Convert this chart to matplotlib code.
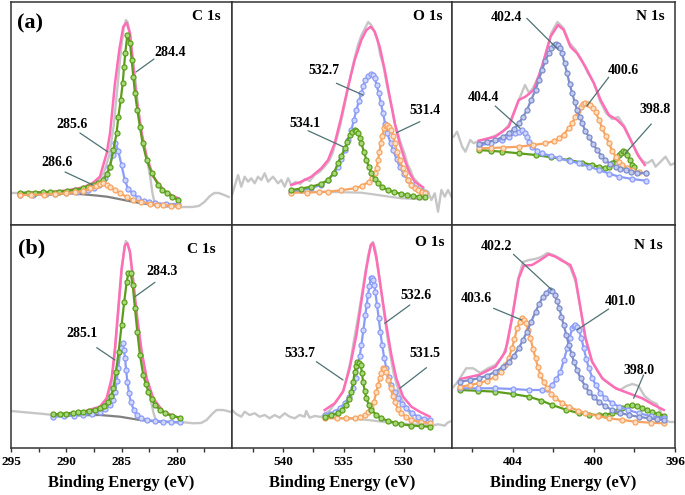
import matplotlib
matplotlib.use("Agg")
import matplotlib.pyplot as plt
from matplotlib.ticker import FixedLocator

plt.rcParams['font.family'] = ['Liberation Serif', 'DejaVu Serif']
plt.rcParams['font.weight'] = 'bold'

# ---------------- (a) C 1s ----------------
a_c1s_raw_e = [295, 294.2, 292.5, 290.5, 289, 288, 287.2, 286.6, 286.1, 285.7, 285.35, 285.05, 284.8, 284.6,
               284.45, 284.25, 284.0, 283.75, 283.5, 283.2, 282.9, 282.6, 282.4, 282.2, 282.0, 281.6, 280.5,
               279.5, 278.6, 278.0, 277.5, 277.0, 276.6, 276.2, 275.7, 275.3]
a_c1s_raw_i = [32, 32, 32, 33, 35, 38, 43, 52, 70, 100, 140, 175, 197, 205, 203, 192, 168, 145, 118, 92, 75,
               60, 48, 32, 22, 20, 18, 18, 18, 19, 23, 29, 32, 32, 30, 28]
a_c1s_bg_e = [294.2, 291, 289.5, 288.5, 287.3, 286.3, 285.1, 283.9, 282.7, 281.3, 279.9]
a_c1s_bg_i = [32, 32, 31.5, 30.7, 29.5, 28.3, 25.7, 23, 21, 20, 19.3]
a_c1s_sum_e = [294.2, 291.5, 290, 288.5, 287.6, 286.95, 286.65, 286.34, 286.04, 285.59, 285.2, 284.84, 284.53,
               284.23, 283.93, 283.63, 283.17, 282.72, 282.12, 281.2, 280.5, 279.86]
a_c1s_sum_i = [32, 33, 34.5, 37.5, 42, 48.3, 60, 71.7, 91.7, 141.7, 175, 198.3, 202.3, 191.7, 158, 125, 91.7,
               68.3, 48.3, 35, 30, 26.7]
a_c1s_p1_e = [294.19, 293.5, 292.8, 292.1, 291.5, 290.7, 289.96, 289.2, 288.46, 288, 287.55, 287.1, 286.65,
              286.3, 286.04, 285.74, 285.44, 285.29, 285.07, 284.89, 284.77, 284.66, 284.47, 284.23, 284.08,
              283.93, 283.78, 283.57, 283.33, 283.09, 282.72, 282.27, 281.67, 281.3, 280.9, 280.4, 279.86]
a_c1s_p1_i = [32, 32.2, 32.5, 32.8, 33, 33.5, 34, 35.5, 37, 38.5, 40, 42, 45, 51, 58, 75, 92, 108, 125, 142,
              158, 172, 190, 182, 165, 148, 132, 115, 98, 82, 65, 52, 40, 35, 32, 28, 25]
a_c1s_p2_e = [294.2, 293, 291.8, 291, 290, 289, 288.5, 288, 287.5, 287, 286.5, 286.1, 285.8, 285.55, 285.3,
              285.0, 284.7, 284.4, 284.0, 283.5, 283, 282.5, 282, 281, 279.9]
a_c1s_p2_i = [30, 30.3, 30.7, 31, 32, 33, 34, 35, 37, 40, 47, 58, 70, 82, 74, 60, 45, 36, 32, 27, 24, 23, 22,
              21, 21]
a_c1s_p3_e = [294.2, 293.2, 292, 291, 290, 289.2, 288.5, 287.85, 287.3, 286.95, 286.65, 286.3, 286.04, 285.6,
              285.14, 284.5, 283.93, 283.2, 282.42, 281.8, 281.2, 280.5, 279.86]
a_c1s_p3_i = [30, 30.2, 30.5, 31, 31.7, 32.8, 34, 36.7, 39, 40.7, 42.3, 40.5, 38.3, 35, 31.7, 28, 25, 23, 21,
              20.3, 19.7, 19.3, 19]

# ---------------- (a) O 1s ----------------
a_o1s_raw_e = [544.25, 543.75, 543.48, 543.2, 542.92, 542.65, 542.37, 542.09, 541.82, 541.54, 541.26, 540.85,
               540.43, 540.16, 539.88, 539.6, 539.33, 539.0, 538.6, 538.2, 537.8, 537.4, 537.0, 536.6, 536.2,
               535.9, 535.6, 535.3, 535.0, 534.7, 534.4, 534.1, 533.8, 533.5, 533.2, 532.95, 532.7, 532.45,
               532.2, 531.95, 531.7, 531.45, 531.2, 530.95, 530.7, 530.45, 530.2, 529.95, 529.7, 529.45,
               529.2, 528.95, 528.7, 528.45, 528.26, 527.98, 527.71, 527.43, 527.16, 526.88, 526.6, 526.33,
               526.05]
a_o1s_raw_i = [30, 50, 38.3, 48.3, 43.3, 46.7, 41.7, 48.3, 45, 51.7, 43.3, 48.3, 41.7, 45, 38.3, 46.7, 40, 43,
               41, 46, 44, 50, 53, 58, 64, 72, 85, 98, 115, 132, 150, 166, 180, 190, 197, 203, 200, 194, 186,
               170, 160, 143, 128, 116, 100, 90, 80, 72, 61, 55, 47, 44, 40, 37, 35, 33.3, 25, 31.7, 13.3, 35,
               28.3, 35, 28.3]
a_o1s_bg_e = [539.33, 536, 533.52, 532.14, 531, 530.2, 528.26]
a_o1s_bg_i = [33.3, 33, 32.3, 30, 28, 26.7, 25.7]
a_o1s_sum_e = [539.33, 538.5, 537.67, 536.84, 536.28, 535.73, 535.18, 534.62, 534.07, 533.52, 533.1, 532.74,
               532.41, 532.0, 531.58, 531.17, 530.75, 530.34, 529.92, 529.51, 529.09, 528.4]
a_o1s_sum_i = [40, 43.3, 48.3, 56.7, 65, 81.7, 108.3, 138.3, 165, 185, 195, 198.3, 193.3, 178.3, 155, 128.3,
               101.7, 81.7, 65, 51.7, 43.3, 37.7]
a_o1s_p1_e = [539.33, 538.5, 537.67, 536.9, 536.28, 535.8, 535.46, 535.18, 534.9, 534.62, 534.35, 534.14,
              533.93, 533.72, 533.52, 533.35, 533.19, 532.95, 532.74, 532.58, 532.41, 532.25, 532.08, 531.9,
              531.72, 531.54, 531.36, 531.1, 530.89, 530.6, 530.34, 530.0, 529.65, 529.3, 528.96, 528.6,
              528.26]
a_o1s_p1_i = [33.3, 35, 36.7, 40, 45, 52, 58.3, 66, 75, 85, 95, 105, 115, 124, 131.7, 139, 145, 149, 151, 150,
              146.7, 140, 131.7, 122, 111.7, 101, 91.7, 82, 75, 66, 58.3, 51, 45, 40, 36.7, 34, 32.3]
a_o1s_p2_e = [539.33, 538.5, 537.67, 536.9, 536.28, 535.8, 535.46, 535.18, 534.9, 534.7, 534.49, 534.28,
              534.07, 533.93, 533.79, 533.65, 533.52, 533.3, 533.1, 532.9, 532.69, 532.4, 532.14, 531.8,
              531.31, 530.8, 530.2, 529.7, 529.2, 528.7, 528.26]
a_o1s_p2_i = [35, 36.5, 38.3, 41, 45, 52, 61.7, 69, 76.7, 83, 90, 93.5, 95, 94, 91.7, 87, 81.7, 73, 65, 58,
              51.7, 46, 41.7, 38, 35, 33, 31, 30, 29, 28.3, 27.7]
a_o1s_p3_e = [539.33, 538, 537, 536.28, 535.2, 534.07, 533.5, 532.9, 532.65, 532.41, 532.25, 532.14, 532.02,
              531.91, 531.78, 531.64, 531.5, 531.36, 531.2, 531.03, 530.9, 530.75, 530.55, 530.34, 530.1,
              529.92, 529.65, 529.37, 529.1, 528.82, 528.5, 528.26]
a_o1s_p3_i = [32.3, 32.5, 32.9, 33.3, 34.8, 36.7, 39, 43.3, 47, 51.7, 57, 65, 73, 81.7, 89, 96.7, 99, 100, 98,
              95, 89, 81.7, 73, 65, 57, 51.7, 45, 40, 37, 35, 33.5, 32.3]

# ---------------- (a) N 1s ----------------
a_n1s_raw_e = [406.92, 406.75, 406.5, 406.34, 406.1, 405.93, 405.77, 405.68, 405.3, 404.9, 404.5, 404.2,
               403.9, 403.6, 403.4, 403.2, 403.0, 402.7, 402.4, 402.1, 401.8, 401.5, 401.2, 400.9, 400.6,
               400.3, 400.0, 399.7, 399.4, 399.1, 398.8, 398.5, 398.2, 397.9, 397.6, 397.37, 397.12, 396.96,
               396.71, 396.47, 396.22, 396.0]
a_n1s_raw_i = [88.3, 93.3, 78.3, 73.3, 85, 81.7, 83.3, 84, 86, 89, 93, 100, 115, 130, 140, 132, 137, 150, 170,
               192, 203, 197, 182, 175, 165, 152, 142, 124, 112, 106, 108, 99, 86, 72, 64, 61.7, 65, 58.3,
               63.3, 68.3, 60, 62]
a_n1s_sum_e = [405.68, 404.86, 404.2, 403.71, 403.38, 402.97, 402.56, 402.14, 401.77, 401.49, 401.16, 400.83,
               400.42, 400.0, 399.67, 399.26, 398.85, 398.52, 398.19, 397.78, 397.49]
a_n1s_sum_i = [84.3, 88.3, 98.3, 125, 128.3, 135, 158.3, 188.3, 200, 195, 178.3, 171.7, 158.3, 141.7, 125, 110,
               105, 98.3, 85, 68.3, 60]
a_n1s_p1_e = [405.68, 405.25, 404.86, 404.5, 404.2, 403.95, 403.71, 403.5, 403.3, 403.1, 402.88, 402.72,
              402.56, 402.4, 402.23, 402.1, 401.98, 401.87, 401.77, 401.67, 401.57, 401.45, 401.32, 401.2,
              401.07, 400.95, 400.83, 400.7, 400.58, 400.42, 400.25, 400.05, 399.84, 399.63, 399.43, 399.2,
              398.93, 398.7, 398.44, 398.15, 397.86, 397.45]
a_n1s_p1_i = [81, 83, 85, 88, 91.7, 96, 101.7, 108, 115, 125, 135, 145, 155, 164, 171.7, 177, 180, 181, 180,
              177, 171.7, 162, 151.7, 141, 131.7, 123, 115, 108, 101.7, 94, 88.3, 81, 75, 69, 65, 61, 58.3,
              56.5, 55, 53.5, 52.3, 51.7]
a_n1s_p2_e = [405.68, 405.1, 404.5, 403.71, 403.0, 402.39, 401.95, 401.73, 401.5, 401.24, 401.07, 400.91,
              400.78, 400.66, 400.54, 400.42, 400.3, 400.17, 400.05, 399.92, 399.75, 399.59, 399.42, 399.26,
              399.1, 398.93, 398.76, 398.6, 398.35, 398.11, 397.8, 397.45]
a_n1s_p2_i = [76.7, 77, 77.5, 78.3, 80, 81.7, 84, 86.7, 90.5, 96.7, 102, 108.3, 114, 118.3, 121, 121.7, 121.5,
              120, 117, 113.3, 105, 96.7, 89, 81.7, 74.5, 68.3, 63.5, 60, 57, 55, 53, 51.7]
a_n1s_p3_e = [405.68, 405.1, 404.53, 404.2, 403.87, 403.7, 403.54, 403.42, 403.3, 403.18, 403.05, 402.8,
              402.56, 402.1, 401.73, 401.2, 400.74, 400.25, 399.76, 399.25, 398.77, 398.1, 397.45]
a_n1s_p3_i = [79.3, 82, 85, 88, 91.7, 93.5, 95, 92, 88.3, 83, 78.3, 74.5, 71.7, 69, 66.7, 64, 61.7, 58.5, 55,
              51.5, 48.3, 46, 44.3]
a_n1s_p4_e = [405.68, 405.1, 404.53, 403.7, 402.88, 402.1, 401.24, 400.6, 400.09, 399.75, 399.43, 399.25,
              399.1, 398.93, 398.77, 398.67, 398.57, 398.46, 398.36, 398.22, 398.11, 398.03]
a_n1s_p4_i = [75, 74.2, 73.3, 71.7, 70, 67.7, 65, 62.5, 60, 58.3, 56.7, 58.5, 61.7, 66, 70, 72.5, 74.3, 73,
              70, 65, 60, 58.3]

# ---------------- (b) C 1s ----------------
b_c1s_raw_e = [295, 294, 293, 292, 291.2, 290, 288.5, 287.5, 286.8, 286.3, 285.9, 285.6, 285.3, 285.0, 284.75,
               284.6, 284.45, 284.25, 284.0, 283.75, 283.5, 283.2, 282.9, 282.6, 282.3, 282.1, 281.9, 281.5,
               280.5, 279.7, 279.2, 278.5, 277.8, 277.3, 276.8, 276.4, 275.8, 275.2]
b_c1s_raw_i = [37, 36, 35, 34, 33, 33, 35, 37, 40, 48, 65, 95, 135, 175, 200, 207, 204, 196, 172, 142, 118,
               96, 78, 62, 45, 35, 28, 26, 26, 26, 25.5, 24.7, 25, 28, 34, 38, 38, 36.3]
b_c1s_bg_e = [291.17, 286.95, 285.14, 283.33, 281.52, 279.7]
b_c1s_bg_i = [32.3, 33, 31.3, 28, 26.3, 25.7]
b_c1s_sum_e = [291.17, 288.46, 286.95, 286.35, 285.89, 285.59, 285.29, 284.99, 284.68, 284.47, 284.23, 283.93,
               283.57, 283.17, 282.72, 282.12, 281.22, 279.7]
b_c1s_sum_i = [33, 36.3, 41.3, 49.7, 69.7, 99.7, 139.7, 179.7, 203, 204.7, 196.3, 166.3, 129.7, 96.3, 69.7,
               49.7, 36.3, 29.7]
b_c1s_p1_e = [291.17, 290.6, 290.0, 289.4, 288.9, 288.46, 287.9, 287.4, 286.95, 286.55, 286.2, 285.95, 285.74,
              285.5, 285.26, 284.99, 284.75, 284.53, 284.38, 284.17, 283.99, 283.78, 283.57, 283.33, 283.03,
              282.8, 282.57, 282.27, 281.97, 281.5, 281.07, 280.4, 279.7]
b_c1s_p1_i = [33.7, 34, 34.5, 35, 35.6, 36.3, 37.5, 38.5, 39.7, 42.5, 46.3, 52, 59.7, 76.3, 96.3, 123, 146.3,
              166.3, 174.7, 174.7, 163, 139.7, 116.3, 93, 73, 64, 56.3, 49, 43, 38, 34.7, 32, 30.3]
b_c1s_p2_e = [291.17, 290.2, 289.3, 288.46, 287.7, 286.95, 286.5, 286.04, 285.8, 285.59, 285.44, 285.29,
              285.08, 284.9, 284.78, 284.68, 284.58, 284.47, 284.32, 284.17, 283.9, 283.63, 283.2, 282.72,
              282.0, 281.22, 280.5, 279.7]
b_c1s_p2_i = [31.3, 31.8, 32.4, 33, 34.5, 36.3, 39, 43, 48.5, 56.3, 67, 79.7, 99.7, 104.7, 98, 89.7, 78,
              66.3, 55, 46.3, 38.5, 33, 30, 28, 27, 26.3, 26, 25.7]

# ---------------- (b) O 1s ----------------
b_o1s_raw_e = [544.25, 543.9, 543.48, 543.2, 542.79, 542.37, 541.96, 541.54, 541.13, 540.71, 540.3, 539.88,
               539.47, 539.05, 538.64, 538.22, 538.1, 537.81, 537.39, 536.84, 536.5, 536.2, 535.8, 535.4,
               535.0, 534.7, 534.4, 534.1, 533.8, 533.5, 533.2, 532.95, 532.7, 532.55, 532.35, 532.1, 531.85,
               531.6, 531.35, 531.1, 530.85, 530.6, 530.3, 530.0, 529.7, 529.4, 529.1, 528.8, 528.5, 528.2,
               527.9, 527.71, 527.43, 527.16, 526.88, 526.6, 526.4, 526.19, 526.0]
b_o1s_raw_i = [38, 34, 31.3, 36.3, 33, 34.7, 31.3, 33, 29.7, 33, 30.3, 34.7, 31.3, 29.7, 33, 31.3, 37, 30.3,
               32, 31, 35, 37, 43, 50, 58, 72, 88, 110, 130, 152, 175, 193, 204, 206, 198, 178, 155, 132, 110,
               92, 75, 64, 52, 45, 38, 33, 28, 25, 23, 22, 21.5, 21.3, 23, 23.7, 23, 22.3, 25, 26.3, 27]
b_o1s_bg_e = [536.56, 534.5, 532.97, 531.8, 530.75, 529.3, 527.85]
b_o1s_bg_i = [30.3, 29.5, 28, 26.3, 24.7, 23.7, 23]
b_o1s_sum_e = [536.56, 535.73, 535.04, 534.49, 533.93, 533.52, 533.1, 532.74, 532.55, 532.27, 531.86, 531.45,
               531.03, 530.62, 530.06, 529.37, 528.68, 527.85]
b_o1s_sum_i = [38, 44.7, 56.3, 79.7, 113, 146.3, 179.7, 203, 204.7, 189.7, 156.3, 123, 93, 69.7, 51.3, 41.3,
               36.3, 31.3]
b_o1s_p1_e = [536.56, 536.1, 535.73, 535.3, 534.9, 534.55, 534.21, 534.0, 533.79, 533.65, 533.52, 533.35,
              533.19, 533.08, 532.97, 532.85, 532.74, 532.65, 532.55, 532.45, 532.36, 532.22, 532.08, 531.94,
              531.8, 531.62, 531.45, 531.25, 531.03, 530.75, 530.48, 530.15, 529.79, 529.3, 528.82, 528.3,
              527.85]
b_o1s_p1_i = [33, 34.5, 36.3, 40, 44.7, 51, 59.7, 70, 83, 92, 103, 118, 133, 143, 153, 162, 169.7, 170, 168,
              163, 156.3, 143, 129.7, 116, 103, 90, 79.7, 71, 63, 56, 49.7, 44, 39.7, 35, 31.3, 29.5, 28]
b_o1s_p2_e = [536.56, 536.0, 535.46, 535.1, 534.76, 534.55, 534.35, 534.2, 534.07, 533.95, 533.85, 533.7,
              533.57, 533.47, 533.38, 533.24, 533.1, 532.9, 532.69, 532.3, 531.86, 531.3, 530.75, 530.2, 529.4,
              528.6, 527.85]
b_o1s_p2_i = [31.3, 32.8, 34.7, 38.5, 43, 49, 56.3, 66, 76.3, 82.5, 86.3, 85.5, 83, 75, 66.3, 57, 49.7, 43,
              38, 33.5, 29.7, 27, 25.5, 23.7, 22.5, 21.8, 21.3]
b_o1s_p3_e = [536.56, 535.5, 534.8, 534.07, 533.6, 533.24, 532.95, 532.69, 532.48, 532.27, 532.13, 532.0,
              531.86, 531.72, 531.6, 531.45, 531.27, 531.09, 530.92, 530.75, 530.5, 530.2, 529.8, 529.37,
              528.6, 527.85]
b_o1s_p3_i = [29.7, 29.7, 29.7, 29.7, 31, 33, 36, 39.7, 46, 56.3, 63, 69.7, 75.5, 79.7, 79.5, 76.3, 68,
              59.7, 52.5, 46.3, 39.5, 34.7, 31, 28, 26, 24.7]

# ---------------- (b) N 1s ----------------
b_n1s_raw_e = [407, 406.8, 406.6, 406.3, 405.95, 405.6, 405.2, 404.86, 404.5, 404.25, 404.0, 403.75, 403.5,
               403.2, 402.9, 402.6, 402.3, 402.0, 401.7, 401.4, 401.15, 400.9, 400.65, 400.4, 400.1, 399.8,
               399.5, 399.1, 398.7, 398.4, 398.1, 397.8, 397.5, 397.2, 396.9, 396.7, 396.5, 396.2, 396.0]
b_n1s_raw_i = [59.7, 64, 70, 79.7, 79.7, 75, 80, 83, 92, 105, 135, 168, 186, 188, 189, 191, 195, 193, 190, 186,
               180, 166, 138, 110, 87, 76, 68, 62, 58, 62, 64, 62, 52, 47, 44, 36, 27, 26, 26]
b_n1s_sum_e = [406.59, 405.68, 404.86, 404.37, 404.04, 403.71, 403.46, 403.05, 402.64, 402.23, 401.9, 401.49,
               401.16, 400.91, 400.66, 400.42, 400.09, 399.59, 398.93, 398.28, 397.62, 397.04, 396.55]
b_n1s_sum_i = [69, 73, 81.3, 96.3, 129.7, 169.7, 182.3, 183, 188, 193.7, 191.3, 186.3, 183, 169.7, 139.7, 109.7,
               86.3, 69.7, 59.7, 54.7, 49.7, 43, 38]
b_n1s_p1_e = [406.59, 406.1, 405.68, 405.25, 404.86, 404.5, 404.2, 403.95, 403.71, 403.5, 403.3, 403.1,
              402.88, 402.7, 402.52, 402.35, 402.19, 402.06, 401.93, 401.82, 401.7, 401.6, 401.49, 401.36,
              401.24, 401.1, 400.99, 400.83, 400.66, 400.45, 400.25, 400.0, 399.76, 399.45, 399.1, 398.7,
              398.28, 397.8, 397.29, 396.9, 396.55]
b_n1s_p1_i = [66.3, 68, 69.7, 72.5, 76.3, 81, 86.3, 92.5, 99.7, 108, 116.3, 126, 136.3, 144, 151.3, 155.5,
              158, 157, 153, 147, 139.7, 131, 123, 113, 103, 94, 86.3, 78, 69.7, 62.5, 56.3, 51, 46.3, 42,
              38, 35, 33, 31.2, 29.7, 28.7, 28]
b_n1s_p2_e = [406.59, 406.1, 405.68, 405.25, 404.86, 404.6, 404.37, 404.2, 404.04, 403.92, 403.79, 403.66,
              403.54, 403.45, 403.35, 403.24, 403.13, 403.0, 402.88, 402.76, 402.64, 402.48, 402.31, 402.1,
              401.9, 401.55, 401.24, 400.8, 400.42, 399.8, 399.26, 398.6, 397.95, 397.2, 396.55]
b_n1s_p2_i = [61.3, 63, 64.7, 67.5, 71.3, 76, 83, 90, 99.7, 109, 119.7, 126, 129.7, 128, 124.7, 118, 109.7,
              99, 89.7, 81, 73, 66, 59.7, 54, 49.7, 45, 41.3, 37.5, 34.7, 32, 29.7, 28, 26.3, 25.3, 24.7]
b_n1s_p3_e = [406.59, 405.7, 404.86, 404.0, 403.21, 402.56, 402.3, 402.06, 401.85, 401.65, 401.48, 401.32,
              401.2, 401.07, 400.99, 400.91, 400.82, 400.74, 400.62, 400.5, 400.38, 400.25, 400.08, 399.92,
              399.68, 399.43, 399.1, 398.77, 398.3, 397.78, 397.2, 396.55]
b_n1s_p3_i = [59.7, 59.7, 59.7, 59, 58, 58, 59.5, 63, 69, 76.3, 88, 99.7, 110, 119.7, 122, 123, 121.5, 118,
              110, 99.7, 89.5, 79.7, 70.5, 63, 55.5, 49.7, 45, 41.3, 38, 34.7, 32, 29.7]
b_n1s_p4_e = [406.59, 405.7, 404.86, 404.0, 403.21, 402.6, 402.06, 401.4, 400.74, 400.25, 399.76, 399.43,
              399.1, 398.85, 398.6, 398.35, 398.11, 397.86, 397.62, 397.37, 397.12, 396.85, 396.55]
b_n1s_p4_i = [58, 57.2, 56.3, 54, 51.3, 47.5, 43, 38.5, 34.7, 33.5, 33, 33.5, 34.7, 37.5, 40.3, 42, 43,
              42.5, 40.3, 38, 35.7, 33.8, 32.3]

# peak labels: (text, text centre, leader start, leader end) in data units
a_c1s_notes = [("284.4", (280.61, 172), (282.06, 166), (283.69, 153)),
               ("285.6", (289.48, 100), (288.76, 92), (286.22, 73)),
               ("286.6", (290.84, 62), (290.11, 53), (287.58, 40))]
a_o1s_notes = [("532.7", (536.62, 155), (535.59, 141.7), (533.38, 130)),
               ("534.1", (538.22, 101.7), (537.94, 94.3), (535.04, 78.3)),
               ("531.4", (528.26, 115), (528.67, 103.3), (530.61, 92.3))]
a_n1s_notes = [("402.4", (404.3, 207.7), (403.31, 206.7), (401.78, 175.7)),
               ("400.6", (398.53, 154), (399.27, 147.7), (400.35, 119)),
               ("404.4", (405.45, 127.7), (404.87, 119), (403.64, 96.7)),
               ("398.8", (396.97, 115.7), (397.17, 101), (398.45, 71.7))]
b_c1s_notes = [("284.3", (281.36, 176.3), (281.97, 165.7), (283.78, 151.3)),
               ("285.1", (288.6, 114.7), (287.24, 100.3), (285.59, 88))]
b_o1s_notes = [("532.6", (528.95, 152.3), (529.5, 143), (531.58, 124.7)),
               ("533.7", (538.63, 94.7), (537.25, 86.3), (535.04, 68)),
               ("531.5", (528.26, 94.7), (528.12, 80.3), (530.33, 59.7))]
b_n1s_notes = [("402.2", (404.79, 201.3), (403.97, 193.7), (402.07, 158)),
               ("403.6", (405.78, 149), (404.95, 139.7), (403.56, 128)),
               ("401.0", (398.7, 146.3), (399.27, 139), (400.84, 118)),
               ("398.0", (397.79, 78), (397.55, 73), (398.04, 49.7))]

RAW = '#c6c6c6'
SUM = '#ff6db6'
GREEN = ('#5c9e1c', '#a6d87a')
BLUE = ('#8b9cf8', '#d0d7ff')
ORANGE = ('#f7a461', '#fde0c4')
SLATE = ('#7d8dcc', '#c3cbee')
LEADER = '#4e7272'

fig = plt.figure(figsize=(6.85, 4.95), dpi=100)
col_x = [11 / 685, 232 / 685, 452 / 685, 675 / 685]
row_y = [1 - 225 / 495, 1 - 448 / 495]
row_h = 223 / 495

xlims = [(295, 275), (544.25, 526), (407, 396)]
majors = [[295, 290, 285, 280], [540, 535, 530], [404, 400, 396]]
minors = [[292.5, 287.5, 282.5, 277.5], [542.5, 537.5, 532.5, 527.5], [406, 402, 398]]
levels = ['C 1s', 'O 1s', 'N 1s']


def comp(ax, e, i, cols, z):
    ax.plot(e, i, '-o', color=cols[0], lw=1.6, ms=3.6, mfc=cols[1], mec=cols[0], mew=0.9, zorder=z)


panels = [
    [dict(raw=(a_c1s_raw_e, a_c1s_raw_i), bg=(a_c1s_bg_e, a_c1s_bg_i, '#808080'),
          sum=(a_c1s_sum_e, a_c1s_sum_i),
          comps=[(a_c1s_p2_e, a_c1s_p2_i, BLUE), (a_c1s_p1_e, a_c1s_p1_i, GREEN),
                 (a_c1s_p3_e, a_c1s_p3_i, ORANGE)],
          notes=a_c1s_notes),
     dict(raw=(a_o1s_raw_e, a_o1s_raw_i), bg=(a_o1s_bg_e, a_o1s_bg_i, RAW),
          sum=(a_o1s_sum_e, a_o1s_sum_i),
          comps=[(a_o1s_p1_e, a_o1s_p1_i, BLUE), (a_o1s_p3_e, a_o1s_p3_i, ORANGE),
                 (a_o1s_p2_e, a_o1s_p2_i, GREEN)],
          notes=a_o1s_notes),
     dict(raw=(a_n1s_raw_e, a_n1s_raw_i), bg=None,
          sum=(a_n1s_sum_e, a_n1s_sum_i),
          comps=[(a_n1s_p4_e, a_n1s_p4_i, GREEN), (a_n1s_p3_e, a_n1s_p3_i, BLUE),
                 (a_n1s_p2_e, a_n1s_p2_i, ORANGE), (a_n1s_p1_e, a_n1s_p1_i, SLATE)],
          notes=a_n1s_notes)],
    [dict(raw=(b_c1s_raw_e, b_c1s_raw_i), bg=(b_c1s_bg_e, b_c1s_bg_i, '#808080'),
          sum=(b_c1s_sum_e, b_c1s_sum_i),
          comps=[(b_c1s_p2_e, b_c1s_p2_i, BLUE), (b_c1s_p1_e, b_c1s_p1_i, GREEN)],
          notes=b_c1s_notes),
     dict(raw=(b_o1s_raw_e, b_o1s_raw_i), bg=(b_o1s_bg_e, b_o1s_bg_i, RAW),
          sum=(b_o1s_sum_e, b_o1s_sum_i),
          comps=[(b_o1s_p1_e, b_o1s_p1_i, BLUE), (b_o1s_p3_e, b_o1s_p3_i, ORANGE),
                 (b_o1s_p2_e, b_o1s_p2_i, GREEN)],
          notes=b_o1s_notes),
     dict(raw=(b_n1s_raw_e, b_n1s_raw_i), bg=None,
          sum=(b_n1s_sum_e, b_n1s_sum_i),
          comps=[(b_n1s_p4_e, b_n1s_p4_i, GREEN), (b_n1s_p3_e, b_n1s_p3_i, BLUE),
                 (b_n1s_p2_e, b_n1s_p2_i, ORANGE), (b_n1s_p1_e, b_n1s_p1_i, SLATE)],
          notes=b_n1s_notes)],
]

letter_pos = [(0.086, 0.905), (0.094, 0.896)]
level_pos = [[(0.882, 0.933), (0.891, 0.934), (0.889, 0.937)],
             [(0.863, 0.888), (0.899, 0.922), (0.882, 0.907)]]

for r in range(2):
    for c in range(3):
        ax = fig.add_axes([col_x[c], row_y[r], col_x[c + 1] - col_x[c], row_h])
        p = panels[r][c]
        ax.plot(*p['raw'], color=RAW, lw=1.7, zorder=1)
        if p['bg'] is not None:
            ax.plot(p['bg'][0], p['bg'][1], color=p['bg'][2], lw=1.6, zorder=2)
        ax.plot(*p['sum'], color=SUM, lw=1.8, zorder=3)
        for k, (e, i, cols) in enumerate(p['comps']):
            comp(ax, e, i, cols, 4 + k)
        for txt, tpos, lstart, lend in p['notes']:
            ax.annotate('', xy=lend, xytext=lstart,
                        arrowprops=dict(arrowstyle='-', color=LEADER, lw=0.9, shrinkA=0, shrinkB=0),
                        zorder=10)
            ax.text(tpos[0], tpos[1], txt, ha='center', va='center', fontsize=10,
                    fontweight='bold', zorder=11)
        ax.set_xlim(*xlims[c])
        ax.set_ylim(0, 223)
        ax.set_yticks([])
        for s in ax.spines.values():
            s.set_color('#333333')
            s.set_linewidth(1.1)
        ax.text(*level_pos[r][c], levels[c], transform=ax.transAxes, ha='center', va='center',
                fontsize=11, fontweight='bold')
        if c == 0:
            ax.text(*letter_pos[r], '(a)' if r == 0 else '(b)', transform=ax.transAxes,
                    ha='center', va='center', fontsize=16, fontweight='bold')
        if r == 1:
            ax.xaxis.set_major_locator(FixedLocator(majors[c]))
            ax.xaxis.set_minor_locator(FixedLocator(minors[c]))
            ax.tick_params(axis='x', which='both', direction='out', length=3, width=1,
                           color='#333333', labelsize=9.5, pad=2.5)
            ax.set_xlabel('Binding Energy (eV)', fontsize=12, fontweight='bold', labelpad=5)
        else:
            ax.set_xticks([])

fig.savefig('out.png', dpi=100)
